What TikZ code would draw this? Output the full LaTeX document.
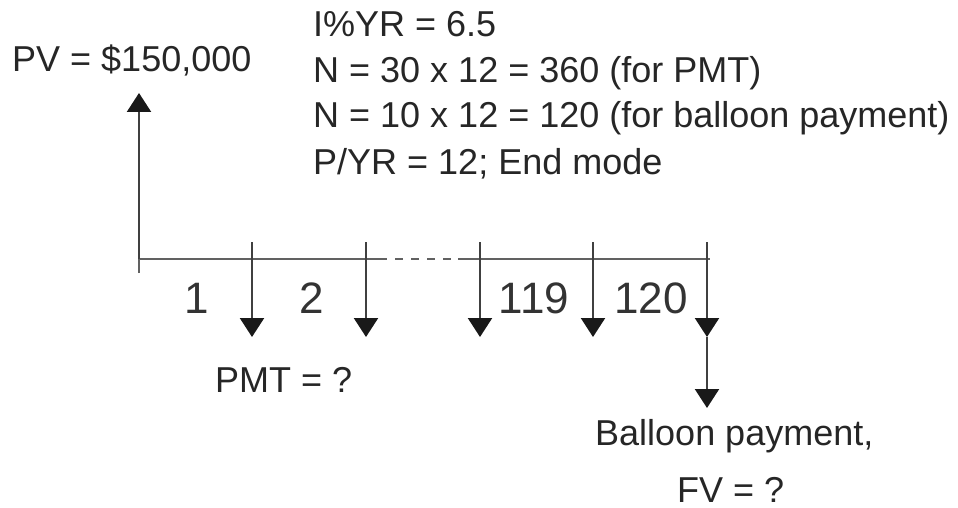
\documentclass[tikz,border=0pt]{standalone}
\usepackage{fontspec}
\setmainfont{Liberation Sans}
\usetikzlibrary{arrows.meta}
\begin{document}
\begin{tikzpicture}[x=1pt,y=-1pt,
  txt/.style={inner sep=0pt, anchor=base west, font=\fontsize{36}{42}\selectfont, text=black!85},
  num/.style={inner sep=0pt, anchor=base, font=\fontsize{44}{50}\selectfont, text=black!80},
  axisline/.style={line width=2.3pt, draw=black!62},
  flow/.style={line width=2.3pt, draw=black!75, -{Triangle[width=24pt,length=19pt,color=black!90]}},
]
\useasboundingbox (0,0) rectangle (958,508);
% axis coordinates
\coordinate (o) at (139,259);
\coordinate (ob) at (139,273);
\coordinate (pvtip) at (139,93);
\coordinate (d1) at (387,259);
\coordinate (d2) at (458,259);
\coordinate (axend) at (710,259);
% payment arrows
\coordinate (t1) at (252,242); \coordinate (b1) at (252,337);
\coordinate (t2) at (366,242); \coordinate (b2) at (366,337);
\coordinate (t3) at (480,242); \coordinate (b3) at (480,337);
\coordinate (t4) at (593,242); \coordinate (b4) at (593,337);
\coordinate (t5) at (707,242); \coordinate (b5) at (707,337);
\coordinate (bal) at (707,408);
% axis
\draw[axisline] (ob) -- (o) -- (d1);
\draw[axisline, dash pattern=on 8pt off 8pt, dash phase=8pt] (d1) -- (d2);
\draw[axisline] (d2) -- (axend);
% PV arrow
\draw[flow] (o) -- (pvtip);
% payments
\draw[flow] (t1) -- (b1);
\draw[flow] (t2) -- (b2);
\draw[flow] (t3) -- (b3);
\draw[flow] (t4) -- (b4);
\draw[flow] (t5) -- (b5);
\draw[flow] (b5) -- (bal);
% texts
\node[txt] (pv) at (12,72) {PV = \$150,000};
\node[txt] (l1) at (313,37) {I\%YR = 6.5};
\node[txt] (l2) at (313,83) {N = 30 x 12 = 360 (for PMT)};
\node[txt] (l3) at (313,128) {N = 10 x 12 = 120 (for balloon payment)};
\node[txt] (l4) at (313,175) {P/YR = 12; End mode};
\node[txt] (pmt) at (215,392) {PMT = ?};
\node[txt] (balloon) at (595,445) {Balloon payment,};
\node[txt] (fv) at (677,502) {FV = ?};
% period numbers
\node[num] (p1) at (197,313) {1};
\node[num] (p2) at (312,313) {2};
\node[num] (p119) at (534,313) {119};
\node[num] (p120) at (651,313) {120};
\end{tikzpicture}
\end{document}
